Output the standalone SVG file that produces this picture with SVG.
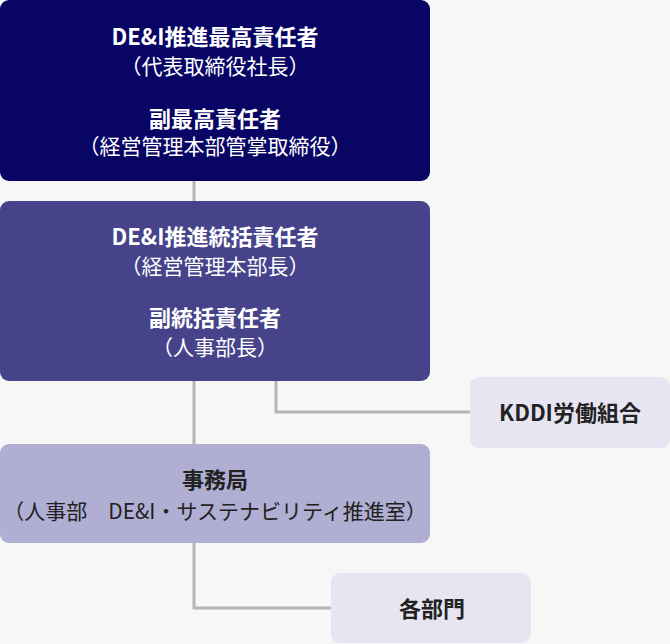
<svg xmlns="http://www.w3.org/2000/svg" width="670" height="644" viewBox="0 0 670 644">
<style>
.t{font-family:"Noto Sans CJK JP","Noto Sans",sans-serif;text-anchor:middle}
.h{font-size:22px;font-weight:700}
.s{font-size:21px;font-weight:400}
.w{fill:#ffffff}
.d{fill:#222222}
.c{fill:none;stroke:#b5b5b5;stroke-width:3}
</style>
<rect width="670" height="644" fill="#f7f7f7"/>
<g id="connectors">
<path class="c" d="M194 181V201"/>
<path class="c" d="M194 381V444"/>
<path class="c" d="M276 381V412H470"/>
<path class="c" d="M194 543V608H331"/>
</g>
<g id="node-top">
<rect x="0" y="0" width="430" height="181" rx="9" fill="#080565"/>
<text class="t h w" x="215" y="44.5">DE&amp;I推進最高責任者</text>
<text class="t s w" x="215" y="74">（代表取締役社長）</text>
<text class="t h w" x="215" y="126.5">副最高責任者</text>
<text class="t s w" x="215" y="154">（経営管理本部管掌取締役）</text>
</g>
<g id="node-general">
<rect x="0" y="201" width="430" height="180" rx="9" fill="#46438a"/>
<text class="t h w" x="215" y="245">DE&amp;I推進統括責任者</text>
<text class="t s w" x="215" y="274">（経営管理本部長）</text>
<text class="t h w" x="215" y="326">副統括責任者</text>
<text class="t s w" x="215" y="355">（人事部長）</text>
</g>
<g id="node-union">
<rect x="470" y="377" width="200" height="71" rx="9" fill="#e6e5f1"/>
<text class="t h d" x="570" y="421">KDDI労働組合</text>
</g>
<g id="node-office">
<rect x="0" y="444" width="430" height="99" rx="9" fill="#b0aed3"/>
<text class="t h d" x="215" y="487.5">事務局</text>
<text class="t s d" x="215" y="519">（人事部　DE&amp;I・サステナビリティ推進室）</text>
</g>
<g id="node-depts">
<rect x="331" y="573" width="200" height="70" rx="9" fill="#e6e5f1"/>
<text class="t h d" x="432" y="617">各部門</text>
</g>
</svg>
